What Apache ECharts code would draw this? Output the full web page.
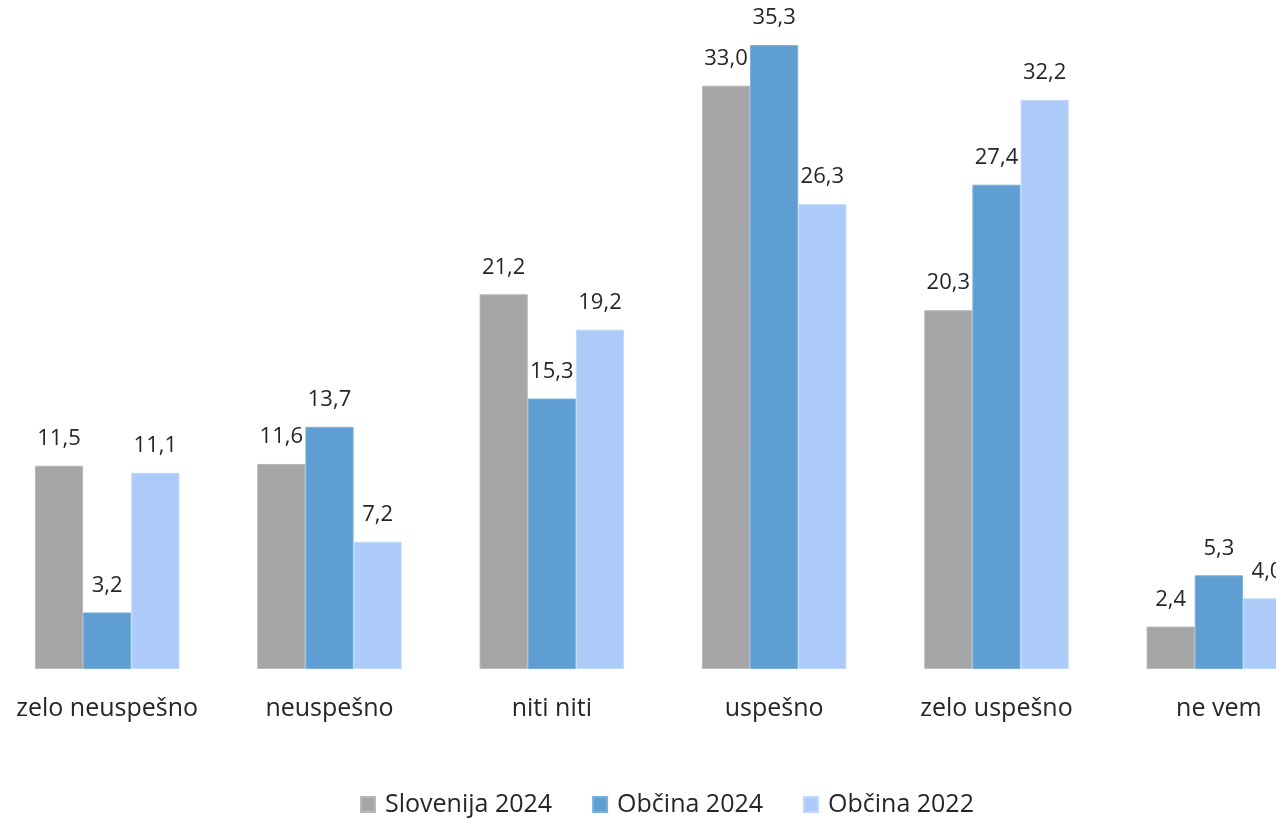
<!DOCTYPE html>
<html>
<head>
<meta charset="utf-8">
<script src="https://cdn.jsdelivr.net/npm/echarts@6/dist/echarts.min.js"></script>
<style>
  html, body { margin: 0; padding: 0; background: #fff; }
  #chart { width: 1276px; height: 819px; }
</style>
</head>
<body>
<div id="chart"></div>
<script>
const categories = ['zelo neuspešno', 'neuspešno', 'niti niti', 'uspešno', 'zelo uspešno', 'ne vem'];
const slovenija2024 = [11.5, 11.6, 21.2, 33.0, 20.3, 2.4];
const obcina2024 = [3.2, 13.7, 15.3, 35.3, 27.4, 5.3];
const obcina2022 = [11.1, 7.2, 19.2, 26.3, 32.2, 4.0];

const chart = echarts.init(document.getElementById('chart'));
const fontFamily = '"Open Sans", "Noto Sans", sans-serif';

function makeSeries(name, data, color, border) {
  return {
    name: name,
    type: 'bar',
    data: data,
    barGap: '0%',
    barCategoryGap: '35%',
    itemStyle: { color: color, borderColor: border, borderWidth: 1 },
    label: {
      show: true,
      position: 'top',
      distance: 16,
      fontFamily: fontFamily,
      fontSize: 22,
      color: '#262626',
      formatter: p => p.value.toFixed(1).replace('.', ',')
    }
  };
}

chart.setOption({
  animation: false,
  textStyle: { fontFamily: fontFamily },
  grid: { left: -4, width: 1334, bottom: 150, top: -38, outerBoundsMode: 'none', containLabel: false },
  xAxis: {
    type: 'category',
    data: categories,
    axisLine: { show: false },
    axisTick: { show: false },
    axisLabel: { interval: 0, hideOverlap: false, fontSize: 25, color: '#262626', margin: 27, fontFamily: fontFamily }
  },
  yAxis: {
    type: 'value',
    min: 0,
    max: 40,
    show: false,
    splitLine: { show: false }
  },
  legend: {
    top: 787,
    left: 355,
    itemWidth: 14,
    itemHeight: 15,
    itemGap: 40,
    icon: 'rect',
    textStyle: { fontSize: 25, color: '#262626', fontFamily: fontFamily, padding: [0, 0, 0, 5] }
  },
  series: [
    makeSeries('Slovenija 2024', slovenija2024, '#a5a5a5', '#b8b8b8'),
    makeSeries('Občina 2024', obcina2024, '#5f9ed2', '#7ab0dc'),
    makeSeries('Občina 2022', obcina2022, '#adcbf8', '#c2d9fa')
  ]
});
</script>
</body>
</html>
